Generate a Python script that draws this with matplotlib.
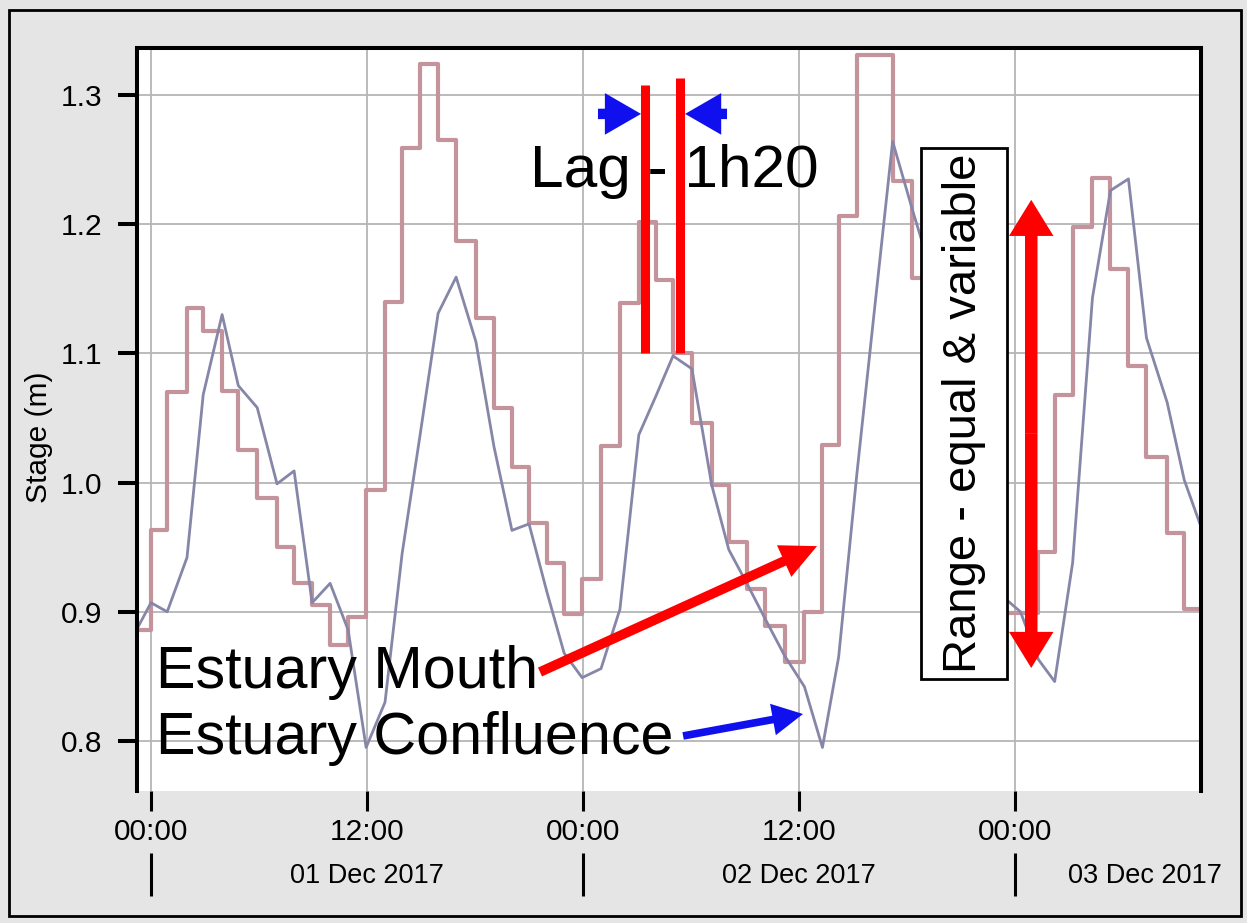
import matplotlib
matplotlib.use("Agg")
import matplotlib.pyplot as plt
from matplotlib.patches import Rectangle

plt.rcParams['font.family'] = ['Liberation Sans', 'DejaVu Sans']

# ---------------- data (hours from 01 Dec 2017 00:00) ----------------
hours = [-1.0, 0.0, 0.9, 2.0, 2.9, 3.95, 4.85, 5.9, 7.0, 7.95, 8.95, 9.95, 10.95,
         11.95, 13.0, 13.95, 14.95, 15.95, 16.95, 18.05, 19.05, 20.05, 21.0, 22.0,
         22.95, 23.95, 25.0, 26.05, 27.1, 28.05, 29.0, 30.05, 31.15, 32.1, 33.1,
         34.1, 35.2, 36.3, 37.3, 38.2, 39.2, 40.2, 41.2, 42.3, 43.3, 44.3, 45.3,
         46.3, 47.3, 48.3, 49.3, 50.2, 51.2, 52.3, 53.3, 54.3, 55.3, 56.45, 57.4, 58.4]

mouth = [0.886, 0.963, 1.070, 1.135, 1.117, 1.071, 1.025, 0.988, 0.950, 0.922,
         0.905, 0.874, 0.896, 0.994, 1.140, 1.259, 1.324, 1.265, 1.187, 1.127,
         1.058, 1.012, 0.969, 0.938, 0.898, 0.925, 1.028, 1.139, 1.2015, 1.157,
         1.100, 1.046, 0.998, 0.954, 0.918, 0.889, 0.861, 0.900, 1.029, 1.206,
         1.331, 1.331, 1.233, 1.158, 1.100, 1.040, 0.980, 0.930, 0.899, 0.899,
         0.946, 1.068, 1.198, 1.236, 1.165, 1.090, 1.020, 0.961, 0.902, 0.902]

confluence = [0.881, 0.907, 0.900, 0.942, 1.068, 1.130, 1.075, 1.058, 0.999, 1.009,
              0.907, 0.922, 0.886, 0.795, 0.830, 0.945, 1.037, 1.131, 1.159, 1.109,
              1.028, 0.963, 0.968, 0.915, 0.868, 0.849, 0.856, 0.902, 1.037, 1.067,
              1.098, 1.088, 0.998, 0.948, 0.922, 0.895, 0.866, 0.842, 0.795, 0.865,
              1.005, 1.135, 1.264, 1.211, 1.165, 1.100, 1.030, 0.960, 0.912, 0.900,
              0.863, 0.846, 0.938, 1.143, 1.226, 1.235, 1.112, 1.062, 1.002, 0.963]

time_ticks = [0, 12, 24, 36, 48]
time_labels = ['00:00', '12:00', '00:00', '12:00', '00:00']
day_ticks = [0, 24, 48]
day_label_pos = [12, 36, 55.2]
day_labels = ['01 Dec 2017', '02 Dec 2017', '03 Dec 2017']
y_ticks = [0.8, 0.9, 1.0, 1.1, 1.2, 1.3]
y_labels = ['0.8', '0.9', '1.0', '1.1', '1.2', '1.3']

# ---------------- figure ----------------
W, H = 1247, 923
fig = plt.figure(figsize=(W / 100, H / 100), dpi=100, facecolor='#e5e5e5')
ax = fig.add_axes([137 / W, 1 - 791 / H, (1201 - 137) / W, (791 - 48) / H])
ax.set_facecolor('white')

ax.set_xlim(-0.778, 58.33)
ax.set_ylim(0.7613, 1.3363)

ax.step(hours, mouth, where='post', color='#c4939c', lw=3.0, zorder=2)
ax.plot(hours, confluence, color='#8686a8', lw=2.0, zorder=2)

ax.set_xticks(time_ticks, labels=time_labels)
ax.set_yticks(y_ticks, labels=y_labels)
ax.grid(True, color='#b5b5b5', lw=1.3, zorder=0)
ax.set_axisbelow(True)

for s in ['left', 'top', 'right']:
    ax.spines[s].set_linewidth(2.9)
    ax.spines[s].set_color('black')
ax.spines['bottom'].set_visible(False)

ax.tick_params(axis='y', length=14, width=2.9, pad=11, labelsize=21.5, direction='out')
ax.tick_params(axis='x', length=14.5, width=2.2, pad=5, labelsize=21.5, direction='out')

ax.set_ylabel('Stage (m)', fontsize=21.5)
ax.yaxis.set_label_coords(-0.079, 0.476)

# second row of date labels
sec = ax.secondary_xaxis(-0.0834)
sec.set_xticks(day_ticks, labels=['', '', ''])
sec.set_xticks(day_label_pos, labels=day_labels, minor=True)
sec.spines['bottom'].set_visible(False)
sec.spines['top'].set_visible(False)
sec.tick_params(axis='x', which='major', length=31, width=2.2, direction='out')
sec.tick_params(axis='x', which='minor', length=0, pad=7, labelsize=19.5)

# ---------------- annotations ----------------
ax.text(21.05, 1.2288, 'Lag - 1h20', fontsize=43.5, ha='left', va='baseline', zorder=4)
ax.plot([27.47, 27.47], [1.1, 1.3077], color='#ff0000', lw=6.5,
        solid_capstyle='butt', zorder=5)
ax.plot([29.36, 29.36], [1.1, 1.313], color='#ff0000', lw=6.5,
        solid_capstyle='butt', zorder=5)

blue_style = 'simple,head_length=2.6,head_width=3.0,tail_width=0.75'
ax.annotate('', xy=(27.22, 1.2853), xytext=(24.83, 1.2853),
            arrowprops=dict(arrowstyle=blue_style, color='#1010ee', lw=0,
                            shrinkA=0, shrinkB=0, mutation_scale=10), zorder=5)
ax.annotate('', xy=(29.67, 1.2853), xytext=(32.0, 1.2853),
            arrowprops=dict(arrowstyle=blue_style, color='#1010ee', lw=0,
                            shrinkA=0, shrinkB=0, mutation_scale=10), zorder=5)

ax.text(0.3, 0.841, 'Estuary Mouth', fontsize=42.7, ha='left', va='baseline', zorder=4)
ax.text(0.3, 0.790, 'Estuary Confluence', fontsize=42.7, ha='left', va='baseline', zorder=4)

ax.annotate('', xy=(37.0, 0.9508), xytext=(21.61, 0.8534),
            arrowprops=dict(arrowstyle='simple,head_length=2.6,head_width=2.5,tail_width=0.7',
                            color='#ff0000', lw=0, shrinkA=0, shrinkB=0,
                            mutation_scale=10), zorder=5)
ax.annotate('', xy=(36.22, 0.8209), xytext=(29.56, 0.8039),
            arrowprops=dict(arrowstyle='simple,head_length=2.2,head_width=2.3,tail_width=0.55',
                            color='#1010ee', lw=0, shrinkA=0, shrinkB=0,
                            mutation_scale=10), zorder=5)

# Range box
ax.add_patch(Rectangle((42.78, 0.848), 47.56 - 42.78, 1.259 - 0.848,
                       facecolor='white', edgecolor='black', lw=2.0, zorder=6))
ax.text(45.17, 1.0537, 'Range - equal & variable', fontsize=34, rotation=90,
        ha='center', va='center', zorder=7)

red_dbl = 'simple,head_length=2.6,head_width=3.2,tail_width=0.9'
ax.annotate('', xy=(48.9, 1.2188), xytext=(48.9, 1.0377),
            arrowprops=dict(arrowstyle=red_dbl, color='#ff0000', lw=0,
                            shrinkA=0, shrinkB=0, mutation_scale=10), zorder=5)
ax.annotate('', xy=(48.9, 0.8565), xytext=(48.9, 1.0377),
            arrowprops=dict(arrowstyle=red_dbl, color='#ff0000', lw=0,
                            shrinkA=0, shrinkB=0, mutation_scale=10), zorder=5)

# figure frame
fig.patches.append(Rectangle((9 / W, 1 - 916 / H), (1241 - 9) / W, (916 - 10) / H,
                             transform=fig.transFigure, fill=False,
                             edgecolor='black', lw=2.0))

fig.savefig('out.png', dpi=100, facecolor=fig.get_facecolor())
